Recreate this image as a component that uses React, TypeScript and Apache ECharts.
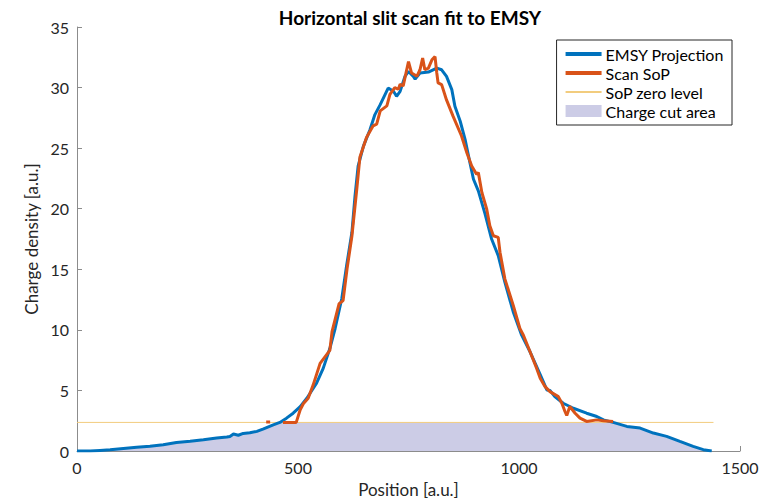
import React, { useEffect, useRef } from "react";
import * as echarts from "echarts";

const emsyX = [0, 30, 52, 75, 105, 135, 165, 195, 225, 256, 286, 316, 339, 346, 354, 365, 376, 391, 407, 422, 444, 459, 474, 489, 505, 520, 535, 542, 557, 572, 584, 599, 610, 622, 629, 636, 648, 663, 674, 686, 704, 716, 723, 731, 742, 750, 761, 765, 776, 795, 814, 825, 836, 848, 855, 867, 878, 885, 897, 908, 923, 938, 953, 968, 987, 1006, 1025, 1048, 1063, 1070, 1081, 1100, 1123, 1153, 1176, 1191, 1213, 1244, 1274, 1304, 1334, 1364, 1394, 1417, 1436];
const emsyY = [0, 0, 0.05, 0.1, 0.2, 0.3, 0.4, 0.52, 0.7, 0.8, 0.93, 1.07, 1.15, 1.2, 1.4, 1.3, 1.45, 1.5, 1.62, 1.83, 2.16, 2.36, 2.71, 3.12, 3.66, 4.35, 5.2, 5.6, 6.82, 8.46, 10.11, 12.57, 15.31, 18.05, 21.06, 23.52, 25.17, 26.54, 27.77, 28.59, 29.96, 29.69, 29.28, 29.69, 30.92, 31.33, 30.92, 30.7, 31.2, 31.28, 31.61, 31.47, 30.92, 29.83, 28.46, 27.22, 25.72, 24.49, 22.43, 21.47, 19.6, 17.5, 16.13, 13.94, 11.48, 9.56, 8.19, 6.3, 5.04, 5.0, 4.49, 3.94, 3.53, 3.12, 2.85, 2.57, 2.36, 2.03, 1.89, 1.48, 1.21, 0.79, 0.38, 0.11, 0];

const scanX = [428, 437, 450, 466, 496, 505, 512, 523, 534, 550, 572, 577, 593, 602, 611, 622, 633, 640, 655, 670, 678, 686, 701, 708, 719, 727, 731, 738, 750, 757, 769, 776, 782, 787, 795, 803, 810, 814, 817, 825, 836, 851, 870, 882, 893, 904, 908, 916, 927, 934, 942, 953, 957, 968, 987, 1002, 1010, 1025, 1040, 1048, 1059, 1070, 1089, 1097, 1104, 1108, 1115, 1127, 1138, 1153, 1176, 1191, 1213];
const scanY: (number | string)[] = [2.4, 2.4, "-", 2.36, 2.36, 3.4, 3.9, 4.35, 5.42, 7.23, 8.3, 9.86, 12.16, 12.41, 15.04, 17.75, 21.61, 24.24, 25.88, 26.84, 26.98, 28.08, 28.49, 29.44, 30.0, 29.86, 30.27, 30.14, 32.15, 31.2, 30.93, 31.47, 32.43, 31.47, 31.61, 32.29, 32.56, 31.2, 30.38, 30.24, 28.98, 27.62, 26.0, 24.62, 23.53, 22.84, 22.98, 21.34, 19.96, 18.59, 17.77, 17.64, 16.41, 14.21, 12.02, 10.11, 9.56, 8.19, 6.82, 6.0, 5.31, 4.9, 4.49, 3.94, 3.26, 2.93, 3.67, 3.12, 2.71, 2.44, 2.57, 2.49, 2.44];

const zeroLevel = 2.36;
const zeroX = [0, 1440];

const xTicks = { min: 0, max: 1500, interval: 500 };
const yTicks = { min: 0, max: 35, interval: 5 };

export default function App() {
  const ref = useRef<HTMLDivElement>(null);
  useEffect(() => {
    if (!ref.current) return;
    const chart = echarts.init(ref.current, null, { renderer: "svg" });
    const font = "Lato, 'Open Sans', sans-serif";
    const axisColor = "#8c8c8c";
    const emsy = emsyX.map((x, i) => [x, emsyY[i]]);
    const scan = scanX.map((x, i) => [x, scanY[i]]);
    const cut = emsyX.map((x, i) => [x, Math.min(emsyY[i], zeroLevel)]);
    const zero = zeroX.map((x) => [x, zeroLevel]);
    const hideSym = { opacity: 0 };
    chart.setOption({
      animation: false,
      textStyle: { fontFamily: font },
      title: {
        text: "Horizontal slit scan fit to EMSY",
        left: 405,
        textAlign: "center",
        top: 3,
        textStyle: { fontFamily: font, fontSize: 19, fontWeight: "bold", color: "#000" },
      },
      grid: { left: 77, right: 32, top: 27, bottom: 50, containLabel: false },
      legend: {
        orient: "vertical",
        right: 40,
        top: 40,
        borderColor: "#262626",
        borderWidth: 1,
        backgroundColor: "#fff",
        padding: [6, 8, 6, 7],
        itemGap: 3,
        itemWidth: 36,
        itemHeight: 12,
        textStyle: { fontFamily: font, fontSize: 16, color: "#000", padding: [0, 0, 0, -1] },
        data: [
          { name: "EMSY Projection", itemStyle: hideSym, lineStyle: { width: 4 } },
          { name: "Scan SoP", itemStyle: hideSym, lineStyle: { width: 4 } },
          { name: "SoP zero level", itemStyle: hideSym },
          { name: "Charge cut area", icon: "rect" },
        ],
      },
      xAxis: {
        type: "value",
        min: xTicks.min,
        max: xTicks.max,
        interval: xTicks.interval,
        name: "Position [a.u.]",
        nameLocation: "middle",
        nameGap: 30,
        nameTextStyle: { fontFamily: font, fontSize: 17, color: "#262626" },
        axisLine: { show: true, lineStyle: { color: axisColor, width: 1 } },
        axisTick: { show: true, inside: true, length: 5, lineStyle: { color: axisColor } },
        axisLabel: { fontFamily: font, fontSize: 16, color: "#262626", margin: 8, formatter: (v: number) => String(v) },
        splitLine: { show: false },
      },
      yAxis: {
        type: "value",
        min: yTicks.min,
        max: yTicks.max,
        interval: yTicks.interval,
        name: "Charge density [a.u.]",
        nameLocation: "middle",
        nameGap: 30,
        nameTextStyle: { fontFamily: font, fontSize: 17, color: "#262626" },
        axisLine: { show: true, lineStyle: { color: axisColor, width: 1 } },
        axisTick: { show: true, inside: true, length: 5, lineStyle: { color: axisColor } },
        axisLabel: { fontFamily: font, fontSize: 16, color: "#262626", margin: 8, formatter: (v: number) => String(v) },
        splitLine: { show: false },
      },
      series: [
        {
          name: "Charge cut area",
          type: "line",
          data: cut,
          symbol: "none",
          color: "#cccce6",
          lineStyle: { width: 0, color: "#cccce6" },
          areaStyle: { color: "#cccce6", opacity: 1 },
          z: 1,
        },
        {
          name: "SoP zero level",
          type: "line",
          data: zero,
          symbol: "none",
          color: "#f2cc7e",
          lineStyle: { width: 1, color: "#f2cc7e" },
          z: 2,
        },
        {
          name: "EMSY Projection",
          type: "line",
          data: emsy,
          symbol: "none",
          color: "#0072BD",
          lineStyle: { width: 3, color: "#0072BD" },
          z: 3,
        },
        {
          name: "Scan SoP",
          type: "line",
          data: scan,
          symbol: "none",
          connectNulls: false,
          color: "#D95319",
          lineStyle: { width: 3, color: "#D95319" },
          z: 4,
        },
      ],
    });
    return () => chart.dispose();
  }, []);
  return <div ref={ref} style={{ width: 772, height: 503, position: "absolute", left: 0, top: 0 }} />;
}
